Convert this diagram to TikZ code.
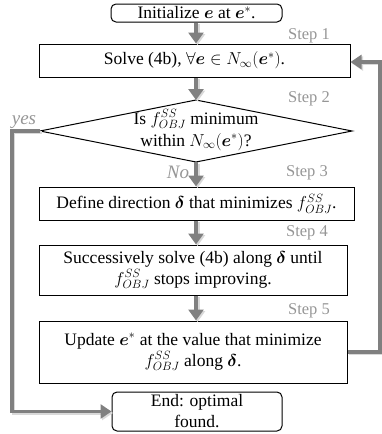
\documentclass[tikz,border=0pt]{standalone}
\usepackage{amsmath}
\usepackage{bm}
\usepackage{fontspec}
\setmainfont{Liberation Serif}
\usetikzlibrary{arrows.meta}
\definecolor{arrowgray}{RGB}{128,128,128}
\definecolor{stepgray}{RGB}{150,150,150}
\begin{document}
\begin{tikzpicture}[x=1pt,y=-1pt,
  font=\fontsize{17.5}{21}\selectfont,
  box/.style={draw=black, line width=1pt, fill=white, inner sep=0pt, align=center},
  rbox/.style={box, rounded corners=5pt},
  flow/.style={draw=arrowgray, line width=4.5pt,
    -{Triangle[width=15pt,length=11pt]},
    preaction={draw=black!15, line width=4.5pt, -{Triangle[width=15pt,length=11pt]},
      transform canvas={shift={(1.5pt,-1.5pt)}}}},
  back/.style={draw=arrowgray, line width=3.2pt,
    -{Triangle[width=14pt,length=11pt]},
    preaction={draw=black!15, line width=3.2pt, -{Triangle[width=14pt,length=11pt]},
      transform canvas={shift={(1.5pt,-1.5pt)}}}},
  steplbl/.style={text=stepgray, anchor=east, inner sep=0pt, font=\fontsize{16.5}{18}\selectfont},
  anslbl/.style={text=stepgray, inner sep=0pt, font=\fontsize{19}{20}\selectfont\itshape}
]
\useasboundingbox (0,0) rectangle (382,434);

% nodes
\node[rbox, minimum width=171pt, minimum height=18pt] (start) at (196.5,13) {Initialize $\bm{e}$ at $\bm{e}^{*}$.};
\node[box, minimum width=311pt, minimum height=33pt] (b1) at (194.5,60.5) {Solve (4b), $\forall\bm{e}\in N_{\infty}(\bm{e}^{*})$.};

\coordinate (dt) at (196,100);
\coordinate (dr) at (352,131);
\coordinate (db) at (196,162);
\coordinate (dl) at (40,131);
\draw[line width=1pt, fill=white] (dt) -- (dr) -- (db) -- (dl) -- cycle;
\node[align=center, inner sep=0pt] (dtext) at (196,130) {Is $f_{OBJ}^{SS}$ minimum\\[1pt] within $N_{\infty}(\bm{e}^{*})$?};

\node[box, minimum width=315pt, minimum height=33pt] (b3) at (196.5,203.5) {Define direction $\bm{\delta}$ that minimizes $f_{OBJ}^{SS}$.};
\node[box, minimum width=308pt, minimum height=50pt] (b4) at (193,270) {Successively solve (4b) along $\bm{\delta}$ until\\ $f_{OBJ}^{SS}$ stops improving.};
\node[box, minimum width=308pt, minimum height=62pt] (b5) at (193,352) {Update $\bm{e}^{*}$ at the value that minimize\\ $f_{OBJ}^{SS}$ along $\bm{\delta}$.};
\node[rbox, minimum width=170pt, minimum height=39pt] (end) at (197,411.5) {End: optimal\\ found.};

% step labels
\node[steplbl] (s1) at (330,36) {Step 1};
\node[steplbl] (s2) at (330,99) {Step 2};
\node[steplbl] (s3) at (328,173) {Step 3};
\node[steplbl] (s4) at (328,233) {Step 4};
\node[steplbl] (s5) at (330,311) {Step 5};
\node[anslbl] (yes) at (24,122) {yes};
\node[anslbl] (no) at (178,172) {No};

% connectors
\draw[flow] (start.south -| dt) -- (b1.north -| dt);
\draw[flow] (b1.south -| dt) -- (dt);
\draw[flow] (db) -- (db |- b3.north);
\draw[flow] (b3.south -| db) -- (b4.north -| db);
\draw[flow] (b4.south -| db) -- (b5.north -| db);

\coordinate (rtop) at (380,62);
\coordinate (lcorner) at (12,131);
\draw[back] (b5.east) -| (rtop) -- (b1.east |- rtop);
\draw[back] (dl) -- (lcorner) |- (end.west);
\end{tikzpicture}
\end{document}
